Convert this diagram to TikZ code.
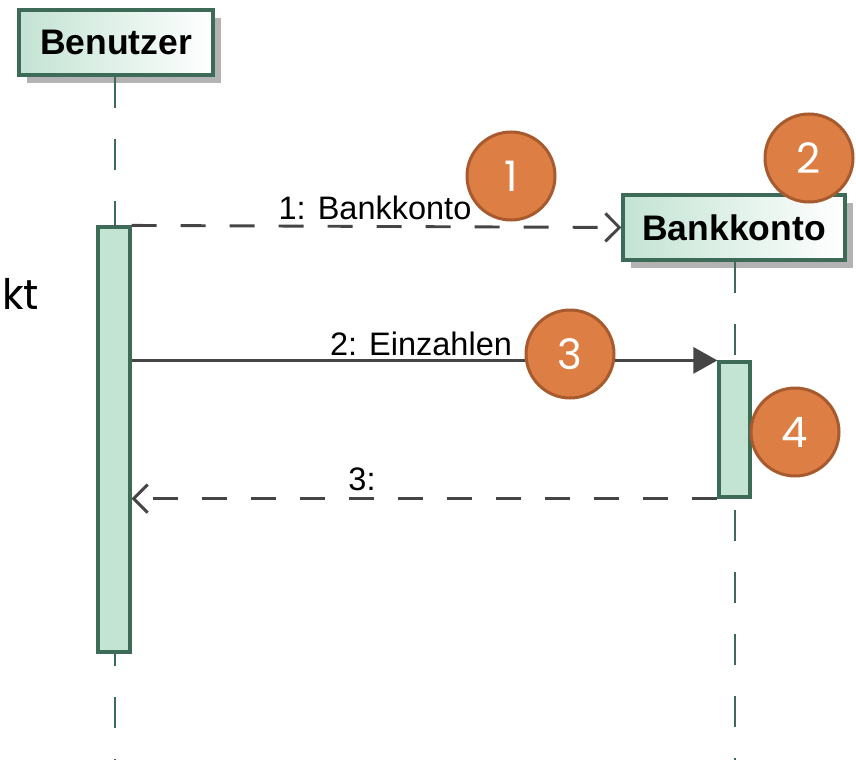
\documentclass[tikz,border=0pt]{standalone}
\usepackage{fontspec}
\setmainfont{Liberation Sans}
\newfontfamily\gothic{Poppins}
\usetikzlibrary{arrows.meta,shadows}
\definecolor{lifegreen}{HTML}{3D6B57}
\definecolor{actfill}{HTML}{C3E3D3}
\definecolor{boxleft}{HTML}{C3E3D3}
\definecolor{msgcol}{HTML}{454545}
\definecolor{badgefill}{HTML}{DD7F45}
\definecolor{badgeline}{HTML}{A65A2E}
\definecolor{shadowgray}{HTML}{B3B3B3}
\begin{document}
\begin{tikzpicture}[x=1pt,y=-1pt,
  participant/.style={draw=lifegreen, line width=3.2pt, left color=boxleft, right color=white,
    shading angle=90, minimum height=65pt, inner sep=0pt,
    font=\fontsize{35.5}{40}\selectfont\bfseries,
    drop shadow={shadow xshift=8pt, shadow yshift=-8pt, fill=shadowgray, opacity=1}},
  activation/.style={draw=lifegreen, line width=3.2pt, fill=actfill, inner sep=0pt},
  lifeline/.style={draw=lifegreen, line width=2.8pt, dash pattern=on 31pt off 31pt},
  msgdash/.style={draw=msgcol, line width=2.9pt, dash pattern=on 25pt off 24pt},
  msgsolid/.style={draw=msgcol, line width=2.9pt},
  openhead/.style={-{Straight Barb[length=14pt,width=28pt,line width=2.9pt]}},
  filledhead/.style={-{Triangle[length=24pt,width=26pt]}},
  msglabel/.style={anchor=base, inner sep=0pt, font=\fontsize{32.5}{37}\selectfont},
  badge/.style={circle, fill=badgefill, draw=badgeline, line width=3pt, minimum size=88pt,
    inner sep=0pt, text=white, font=\gothic\fontsize{42}{46}\selectfont}
]
\useasboundingbox (0,0) rectangle (856,760);
% participants
\node[participant, minimum width=194pt] (ben) at (116,42.5) {Benutzer};
\node[participant, minimum width=222pt] (bank) at (734,227.5) {Bankkonto};
% lifelines
\coordinate (benend) at (115,760);
\coordinate (bankend) at (735,760);
\draw[lifeline] (ben.south -| benend) -- (benend);
\draw[lifeline] (bank.south -| bankend) -- (bankend);
% activations
\node[activation, minimum width=32pt, minimum height=425pt] (act1) at (114,439.5) {};
\node[activation, minimum width=31pt, minimum height=135pt] (act2) at (734.5,429.5) {};
% messages
\draw[msgdash, openhead] (act1.north east) -- (bank.west);
\coordinate (m2s) at (act1.east |- act2.north);
\draw[msgsolid, filledhead] (m2s) -- (act2.north west);
\coordinate (m3e) at (act1.east |- act2.south);
\draw[msgdash, openhead] (act2.south west) -- (m3e);
% labels
\node[msglabel] (l1) at (375,219) {1: Bankkonto};
\node[msglabel] (l2) at (421,355) {2: Einzahlen};
\node[msglabel] (l3) at (362,490) {3:};
% partial text
\node[anchor=base west, inner sep=0pt, font=\gothic\fontsize{42}{46}\selectfont] (kt) at (2,309) {kt};
% badges
\node[badge] (b1) at (511,176) {1};
\node[badge] (b2) at (809,158) {2};
\node[badge] (b3) at (570,354) {3};
\node[badge] (b4) at (795,432) {4};
\end{tikzpicture}
\end{document}
